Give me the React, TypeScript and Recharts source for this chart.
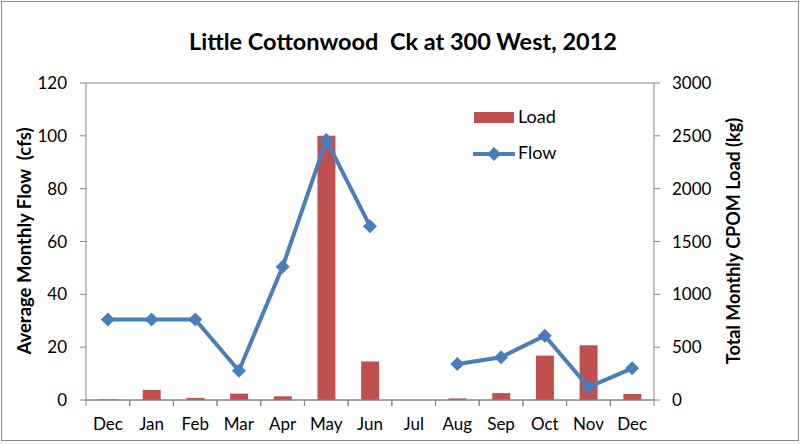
import { ComposedChart, Bar, Line, XAxis, YAxis, CartesianGrid } from "recharts";

const months = ["Dec", "Jan", "Feb", "Mar", "Apr", "May", "Jun", "Jul", "Aug", "Sep", "Oct", "Nov", "Dec"];
const flow = [30.5, 30.5, 30.5, 11.1, 50.4, 98.4, 65.8, null, 13.6, 16.2, 24.3, 4.9, 12];
const load = [5, 95, 20, 60, 35, 2500, 365, 0, 15, 65, 420, 517, 57];
const flowTicks = [0, 20, 40, 60, 80, 100, 120];
const loadTicks = [0, 500, 1000, 1500, 2000, 2500, 3000];

const data = months.map((m, i) => ({ month: m, flow: flow[i], load: load[i] }));

const FONT = "Lato, 'Open Sans', sans-serif";
const AXIS = "#868686";
const BLUE = "#4A7EBB";
const RED = "#C0504D";
const PLOT_BOTTOM = 400;
const BAND = 568 / 13;

function Diamond(props: any) {
  const { cx, cy, index } = props;
  if (cx == null || cy == null || flow[index] == null) return <g key={index} />;
  const r = 7;
  return (
    <polygon
      key={index}
      points={`${cx},${cy - r} ${cx + r},${cy} ${cx},${cy + r} ${cx - r},${cy}`}
      fill={BLUE}
    />
  );
}

function MonthTick(props: any) {
  const { x, payload } = props;
  return (
    <g>
      <line x1={x - BAND / 2} x2={x - BAND / 2} y1={PLOT_BOTTOM} y2={PLOT_BOTTOM + 6} stroke={AXIS} />
      <line x1={x + BAND / 2} x2={x + BAND / 2} y1={PLOT_BOTTOM} y2={PLOT_BOTTOM + 6} stroke={AXIS} />
      <text x={x} y={PLOT_BOTTOM + 26} textAnchor="middle" dominantBaseline="middle" fontSize={17} fill="#000" fontFamily={FONT}>
        {payload.value}
      </text>
    </g>
  );
}

function LegendBox() {
  return (
    <svg width={110} height={70} style={{ fontFamily: FONT, position: "absolute", left: 468, top: 100 }}>
      <rect x={6} y={12} width={40} height={11} fill={RED} />
      <text x={50} y={18} dominantBaseline="middle" fontSize={18} fill="#000">Load</text>
      <line x1={5} x2={47} y1={54} y2={54} stroke={BLUE} strokeWidth={4} />
      <polygon points="26,47 33,54 26,61 19,54" fill={BLUE} />
      <text x={50} y={54} dominantBaseline="middle" fontSize={18} fill="#000">Flow</text>
    </svg>
  );
}

export default function App() {
  const tickStyle = { fontSize: 17, fill: "#000", fontFamily: FONT };
  return (
    <div style={{ position: "absolute", left: 0, top: 0, width: 806, height: 445, background: "#fff", fontFamily: FONT }}>
      <div style={{ position: "absolute", left: 1, top: 1, width: 796, height: 438, border: "1px solid #888" }} />
      <div style={{ position: "absolute", left: 0, width: 806, top: 27, textAlign: "center", fontSize: 23.5, fontWeight: 700, whiteSpace: "pre" }}>
        {"Little Cottonwood  Ck at 300 West, 2012"}
      </div>
      <div style={{ position: "absolute", left: 24, top: 241, transform: "translate(-50%, -50%) rotate(-90deg)", whiteSpace: "pre", fontSize: 18.5, fontWeight: 700 }}>
        {"Average Monthly Flow  (cfs)"}
      </div>
      <div style={{ position: "absolute", left: 733, top: 241, transform: "translate(-50%, -50%) rotate(-90deg)", whiteSpace: "pre", fontSize: 18, fontWeight: 700 }}>
        {"Total Monthly CPOM Load (kg)"}
      </div>
      <ComposedChart width={806} height={445} data={data} margin={{ top: 83, right: 0, bottom: 0, left: 0 }} barCategoryGap={0} style={{ position: "absolute", left: 0, top: 0 }}>
        <CartesianGrid vertical={false} stroke={AXIS} strokeWidth={1} />
        <XAxis dataKey="month" height={45} axisLine={{ stroke: AXIS }} tickLine={false} tick={<MonthTick />} interval={0} />
        <YAxis yAxisId="flow" orientation="left" width={86} domain={[0, 120]} ticks={flowTicks} axisLine={{ stroke: AXIS }} tickLine={{ stroke: AXIS }} tickSize={6} tickMargin={13} tick={tickStyle} />
        <YAxis yAxisId="load" orientation="right" width={152} domain={[0, 3000]} ticks={loadTicks} axisLine={{ stroke: AXIS }} tickLine={{ stroke: AXIS }} tickSize={6} tickMargin={12} tick={{ ...tickStyle, textAnchor: "start" }} />
        <Bar yAxisId="load" dataKey="load" name="Load" fill={RED} barSize={18} isAnimationActive={false} />
        <Line yAxisId="flow" dataKey="flow" name="Flow" stroke={BLUE} strokeWidth={4} dot={<Diamond />} activeDot={false} connectNulls={false} isAnimationActive={false} />
      </ComposedChart>
      <LegendBox />
    </div>
  );
}
